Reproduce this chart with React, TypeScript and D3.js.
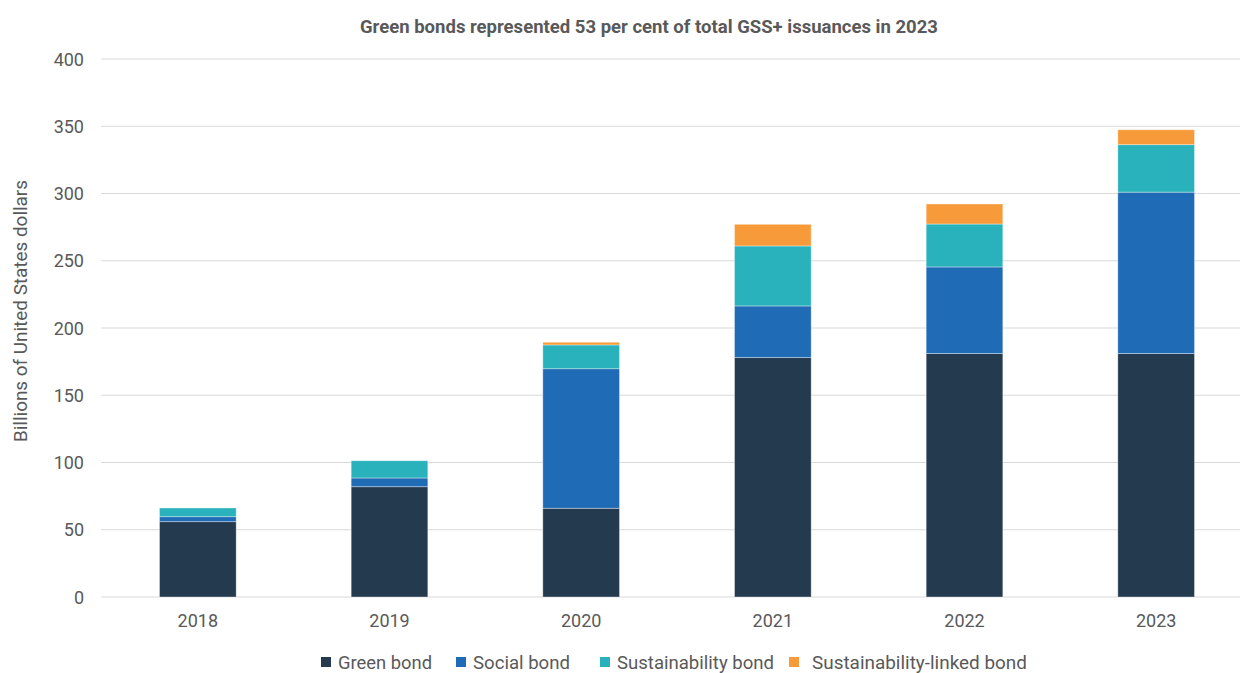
import React from "react";
import * as d3 from "d3";

const years = ["2018", "2019", "2020", "2021", "2022", "2023"];
const greenBond = [56, 82, 66, 178, 181, 181];
const socialBond = [3.7, 6.5, 103.7, 38.4, 64.4, 120];
const sustainabilityBond = [6.5, 12.8, 17.7, 44.6, 31.9, 35.3];
const sustainabilityLinkedBond = [0, 0, 2, 16.1, 14.9, 11.1];
const yTicks = [0, 50, 100, 150, 200, 250, 300, 350, 400];
const seriesNames = ["Green bond", "Social bond", "Sustainability bond", "Sustainability-linked bond"];
const seriesColors = ["#243A4F", "#1F6BB5", "#2AB2BC", "#F79B3A"];

const W = 1240;
const H = 673;
const FONT = "Roboto, 'Noto Sans', sans-serif";

export default function App() {
  const x = d3.scaleBand<string>().domain(years).range([102, 1252]).paddingInner(0.6).paddingOuter(0.3);
  const y = d3.scaleLinear().domain([0, 400]).range([597, 59]);
  const rows = years.map((yr, i) => ({
    year: yr,
    s0: greenBond[i],
    s1: socialBond[i],
    s2: sustainabilityBond[i],
    s3: sustainabilityLinkedBond[i],
  }));
  const stack = d3.stack<any>().keys(["s0", "s1", "s2", "s3"]);
  const layers = stack(rows);

  const legendSq = [321, 456, 600, 789];
  const legendTx = [338, 473, 617, 812];
  const legendLen = [94, 97, 157, 215];

  return (
    <svg width={W} height={H} style={{ position: "absolute", left: 0, top: 0, background: "#fff" }} fontFamily={FONT}>
      <text x={649} y={33} textAnchor="middle" fontWeight="bold" fontSize={18} fill="#595959" textLength={578} lengthAdjust="spacingAndGlyphs">
        Green bonds represented 53 per cent of total GSS+ issuances in 2023
      </text>
      {yTicks.map((t) => (
        <g key={t}>
          <line x1={101} x2={1240} y1={y(t)} y2={y(t)} stroke="#d9d9d9" strokeWidth={1.2} />
          <text x={84} y={y(t) + 6.5} textAnchor="end" fontSize={18} fill="#595959">
            {t}
          </text>
        </g>
      ))}
      <text transform={`translate(27,${311}) rotate(-90)`} textAnchor="middle" fontSize={18} fill="#595959" textLength={262} lengthAdjust="spacingAndGlyphs">
        Billions of United States dollars
      </text>
      {layers.map((layer, li) =>
        layer.map((d, i) =>
          d[1] - d[0] > 0 ? (
            <rect
              key={`${li}-${i}`}
              x={x(years[i])!}
              width={x.bandwidth()}
              y={y(d[1])}
              height={y(d[0]) - y(d[1])}
              fill={seriesColors[li]}
              stroke="#ffffff"
              strokeOpacity={0.45}
              strokeWidth={0.8}
            />
          ) : null
        )
      )}
      {years.map((yr) => (
        <text key={yr} x={x(yr)! + x.bandwidth() / 2} y={627} textAnchor="middle" fontSize={18} fill="#595959">
          {yr}
        </text>
      ))}
      {seriesNames.map((n, i) => (
        <g key={n}>
          <rect x={legendSq[i]} y={657} width={10} height={10} fill={seriesColors[i]} />
          <text x={legendTx[i]} y={669} fontSize={19} fill="#595959" textLength={legendLen[i]} lengthAdjust="spacingAndGlyphs">
            {n}
          </text>
        </g>
      ))}
    </svg>
  );
}
